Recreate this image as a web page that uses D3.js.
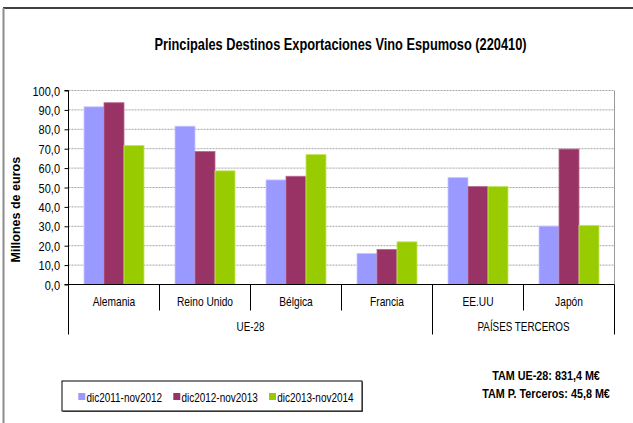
<!DOCTYPE html>
<html>
<head>
<meta charset="utf-8">
<script src="https://cdn.jsdelivr.net/npm/d3@7"></script>
<style>
  html, body { margin: 0; padding: 0; background: #fff; }
  svg { display: block; }
  text { font-family: "Liberation Sans", Arial, sans-serif; fill: #000; }
</style>
</head>
<body>
<div id="chart"></div>
<script>
// datos del gráfico
const categories = ['Alemania', 'Reino Unido', 'Bélgica', 'Francia', 'EE.UU', 'Japón'];
const groups = [
    { name: 'UE-28', from: 'Alemania', to: 'Francia' },
    { name: 'PAÍSES TERCEROS', from: 'EE.UU', to: 'Japón' }
];
const seriesNames = ['dic2011-nov2012', 'dic2012-nov2013', 'dic2013-nov2014'];
const serie2012 = [91.6, 81.6, 53.9, 16.0, 55.1, 30.1];
const serie2013 = [93.7, 68.6, 55.8, 18.1, 50.5, 69.8];
const serie2014 = [71.7, 58.6, 67.0, 22.0, 50.5, 30.5];
const yTicks = [0, 10, 20, 30, 40, 50, 60, 70, 80, 90, 100];
const notes = ['TAM UE-28: 831,4 M€', 'TAM P. Terceros: 45,8 M€'];
const title = 'Principales Destinos Exportaciones Vino Espumoso (220410)';

const colors = ['#9999FF', '#993366', '#99CC00'];
const edgeColors = ['#C8C8FF', '#B86A8E', '#C4E860'];

const width = 633, height = 423;
const margin = { top: 90.5, right: 18.5, bottom: 138.5, left: 68.5 };
const plotW = width - margin.left - margin.right;
const plotH = height - margin.top - margin.bottom;

// texto estrecho (no hay Arial Narrow instalada)
function narrowText(parent, x, y, sx, str) {
    return parent.append('text')
        .attr('transform', `translate(${x},${y}) scale(${sx},1)`)
        .text(str);
}

const svg = d3.select('#chart').append('svg')
    .attr('width', width)
    .attr('height', height);

// marco exterior
svg.append('line')
    .attr('x1', 3).attr('x2', width).attr('y1', 8).attr('y2', 8)
    .attr('stroke', '#000').attr('stroke-width', 1.5);
svg.append('line')
    .attr('x1', 3.5).attr('x2', 3.5).attr('y1', 8).attr('y2', height)
    .attr('stroke', '#8c8c8c').attr('stroke-width', 2);

// título
narrowText(svg, 340.5, 50, 0.8, title)
    .attr('text-anchor', 'middle')
    .style('font-size', '16px')
    .style('font-weight', 'bold');

const g = svg.append('g')
    .attr('transform', `translate(${margin.left},${margin.top})`);

// escalas
const x0 = d3.scaleBand().domain(categories).range([0, plotW]).padding(0);
const x1 = d3.scaleBand().domain(seriesNames).range([0, x0.bandwidth()])
    .paddingInner(0).paddingOuter(0.775);
const y = d3.scaleLinear().domain([0, 100]).range([plotH, 0]);

// líneas de cuadrícula
g.selectAll('.grid')
    .data(yTicks.filter(d => d > 0))
    .enter()
    .append('line')
    .attr('class', 'grid')
    .attr('x1', 0).attr('x2', plotW)
    .attr('y1', d => y(d)).attr('y2', d => y(d))
    .attr('stroke', '#a6a6a6')
    .attr('stroke-dasharray', '2,1');

// borde derecho del área de trazado
g.append('line')
    .attr('x1', plotW).attr('x2', plotW).attr('y1', 0).attr('y2', plotH)
    .attr('stroke', '#9a9a9a').attr('stroke-width', 1);

// barras
const seriesData = [serie2012, serie2013, serie2014];
seriesData.forEach((values, si) => {
    g.selectAll(`.bar-${si}`)
        .data(values)
        .enter()
        .append('rect')
        .attr('class', `bar-${si}`)
        .attr('x', (d, i) => x0(categories[i]) + x1(seriesNames[si]))
        .attr('y', d => y(d))
        .attr('width', x1.bandwidth())
        .attr('height', d => plotH - y(d))
        .attr('fill', colors[si])
        .attr('stroke', edgeColors[si])
        .attr('stroke-width', 0.8);
});

// eje Y
const yAxis = d3.axisLeft(y)
    .tickValues(yTicks)
    .tickSize(4)
    .tickPadding(4)
    .tickFormat(d => d3.format('.1f')(d).replace('.', ','));
const yg = g.append('g').call(yAxis);
yg.attr('font-family', null).attr('font-size', null);
yg.select('.domain').attr('stroke', '#000').attr('d', `M-4,0H0V${plotH}`);
yg.selectAll('.tick line').attr('stroke', '#000');
yg.selectAll('.tick text').remove();
yg.selectAll('.tick').each(function(d) {
    narrowText(d3.select(this), -8.5, 4.5, 0.88, d3.format('.1f')(d).replace('.', ','))
        .attr('text-anchor', 'end')
        .style('font-size', '12.5px');
});

// eje X
g.append('line')
    .attr('x1', -4).attr('x2', plotW).attr('y1', plotH).attr('y2', plotH)
    .attr('stroke', '#000').attr('stroke-width', 1.2);

// separadores de categorías
const bounds = categories.map(c => x0(c)).concat([plotW]);
const groupEdges = [0, plotW];
groups.forEach(gr => groupEdges.push(x0(gr.from)));
g.selectAll('.cat-sep')
    .data(bounds)
    .enter()
    .append('line')
    .attr('class', 'cat-sep')
    .attr('x1', d => d).attr('x2', d => d)
    .attr('y1', plotH)
    .attr('y2', d => groupEdges.some(e => Math.abs(e - d) < 0.5) ? plotH + 50 : plotH + 26)
    .attr('stroke', '#000');

// etiquetas de categoría
categories.forEach(c => {
    narrowText(g, x0(c) + x0.bandwidth() / 2, plotH + 21, 0.85, c)
        .attr('text-anchor', 'middle')
        .style('font-size', '12px');
});

// etiquetas de grupo
groups.forEach(gr => {
    narrowText(g, (x0(gr.from) + x0(gr.to) + x0.bandwidth()) / 2, plotH + 46, 0.82, gr.name)
        .attr('text-anchor', 'middle')
        .style('font-size', '12px');
});

// título del eje Y
svg.append('text')
    .attr('transform', `translate(19.5,209.7) rotate(-90)`)
    .attr('text-anchor', 'middle')
    .style('font-size', '12.5px')
    .style('font-weight', 'bold')
    .text('Millones de euros');

// leyenda
const legend = svg.append('g').attr('transform', 'translate(62,381)');
legend.append('rect')
    .attr('x', 1).attr('y', 1).attr('width', 300).attr('height', 30)
    .attr('fill', '#666');
legend.append('rect')
    .attr('x', 0).attr('y', 0).attr('width', 300).attr('height', 30)
    .attr('fill', '#fff').attr('stroke', '#000').attr('stroke-width', 1);
const itemX = [16.3, 111.3, 207];
seriesNames.forEach((name, i) => {
    legend.append('rect')
        .attr('x', itemX[i]).attr('y', 12)
        .attr('width', 7).attr('height', 7)
        .attr('fill', colors[i]);
    narrowText(legend, itemX[i] + 8.2, 20.5, 0.83, name)
        .style('font-size', '12px');
});

// notas TAM
notes.forEach((n, i) => {
    narrowText(svg, 546, 379.5 + i * 18.3, 0.9, n)
        .attr('text-anchor', 'middle')
        .style('font-size', '12px')
        .style('font-weight', 'bold');
});
</script>
</body>
</html>
